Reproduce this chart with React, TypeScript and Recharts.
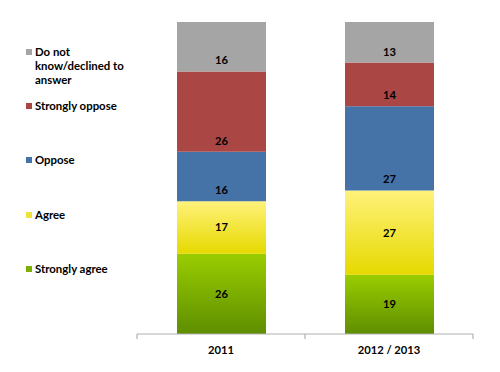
import React from "react";
import { BarChart, Bar, XAxis, YAxis, LabelList } from "recharts";

const categories = ["2011", "2012 / 2013"];
const stronglyAgree = [26, 19];
const agree = [17, 27];
const oppose = [16, 27];
const stronglyOppose = [26, 14];
const dontKnow = [16, 13];

const series = [
  { key: "stronglyAgree", name: "Strongly agree", values: stronglyAgree, fill: "url(#gGreen)", pos: "center" },
  { key: "agree", name: "Agree", values: agree, fill: "url(#gYellow)", pos: "center" },
  { key: "oppose", name: "Oppose", values: oppose, fill: "#4572a7", pos: "insideBottom" },
  { key: "stronglyOppose", name: "Strongly oppose", values: stronglyOppose, fill: "#aa4643", pos: "insideBottom" },
  { key: "dontKnow", name: "Do not know/declined to answer", values: dontKnow, fill: "#a5a5a5", pos: "insideBottom" },
];

const data = categories.map((c, i) => {
  const row: Record<string, number | string> = { name: c };
  series.forEach((s) => {
    row[s.key] = s.values[i];
  });
  return row;
});

const FONT = "Lato, 'Open Sans', sans-serif";

const legendRows = [
  { name: "Do not", extra: ["know/declined to", "answer"], color: "#a5a5a5", y: 52 },
  { name: "Strongly oppose", extra: [], color: "#aa4643", y: 106 },
  { name: "Oppose", extra: [], color: "#4572a7", y: 160 },
  { name: "Agree", extra: [], color: "#eee23a", y: 215 },
  { name: "Strongly agree", extra: [], color: "#7fb000", y: 269 },
];

const LegendBox = () => (
  <div style={{ position: "absolute", left: 0, top: 0, width: 135, height: 300, fontFamily: FONT, fontWeight: 700, fontSize: 11.4, color: "#000" }}>
    {legendRows.map((r) => (
      <div key={r.name} style={{ position: "absolute", left: 26, top: r.y - 7, lineHeight: "14px" }}>
        <span style={{ position: "absolute", left: 0, top: 4, width: 6, height: 6, background: r.color }} />
        <div style={{ marginLeft: 9, whiteSpace: "nowrap" }}>
          {r.name}
          {r.extra.map((e) => (
            <div key={e}>{e}</div>
          ))}
        </div>
      </div>
    ))}
  </div>
);

const HALF_BAND = 84;

const CategoryTick = (props: any) => {
  const { x, y, payload, index } = props;
  return (
    <g>
      <line x1={x - HALF_BAND} y1={y - 8} x2={x - HALF_BAND} y2={y - 3} stroke="#a0a0a0" />
      {index === categories.length - 1 && (
        <line x1={x + HALF_BAND} y1={y - 8} x2={x + HALF_BAND} y2={y - 3} stroke="#a0a0a0" />
      )}
      <text x={x} y={y + 12} textAnchor="middle" fontFamily={FONT} fontWeight={700} fontSize={11.2} fill="#000">
        {payload.value}
      </text>
    </g>
  );
};

export default function App() {
  return (
    <div style={{ position: "absolute", left: 0, top: 0, width: 500, height: 372, background: "#fff" }}>
      <BarChart
        width={500}
        height={372}
        data={data}
        stackOffset="expand"
        margin={{ top: 22, right: 27, left: 137, bottom: 0 }}
      >
        <defs>
          <linearGradient id="gGreen" x1="0" y1="0" x2="0" y2="1">
            <stop offset="0%" stopColor="#9acd00" />
            <stop offset="100%" stopColor="#5e8e00" />
          </linearGradient>
          <linearGradient id="gYellow" x1="0" y1="0" x2="0" y2="1">
            <stop offset="0%" stopColor="#fff27a" />
            <stop offset="100%" stopColor="#e6d900" />
          </linearGradient>
        </defs>
        <XAxis
          dataKey="name"
          axisLine={{ stroke: "#b0b0b0" }}
          tickLine={false}
          tick={<CategoryTick />}
          height={38}
          interval={0}
        />
        <YAxis hide domain={[0, 1]} />
        {series.map((s) => (
          <Bar
            key={s.key}
            dataKey={s.key}
            name={s.name}
            stackId="a"
            fill={s.fill}
            barSize={89}
            isAnimationActive={false}
          >
            <LabelList
              dataKey={s.key}
              position={s.pos as any}
              offset={7}
              fontFamily={FONT}
              fontWeight={700}
              fontSize={11.2}
              fill="#000"
            />
          </Bar>
        ))}
      </BarChart>
      <LegendBox />
    </div>
  );
}
